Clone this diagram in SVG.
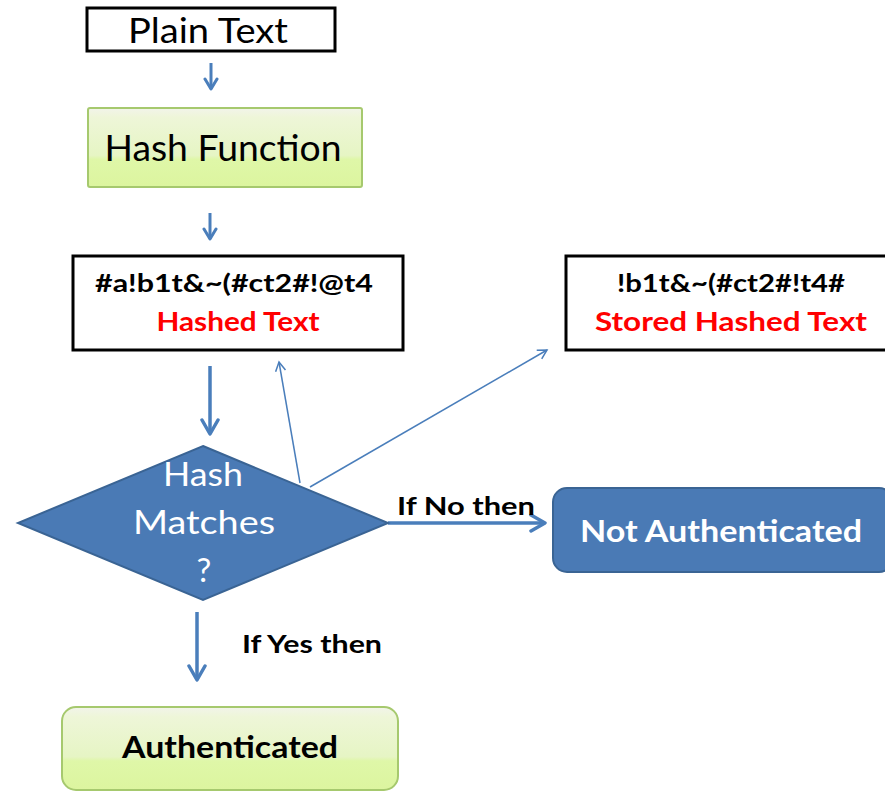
<svg xmlns="http://www.w3.org/2000/svg" width="885" height="792" viewBox="0 0 885 792">
<style>
.t{font-family:Lato,"Liberation Sans",sans-serif;text-anchor:middle}
.b{font-weight:bold}
.box{fill:#fff;stroke:#000;stroke-width:3}
.green{fill:url(#g);stroke:#a6c96e;stroke-width:2}
.blue{fill:#4a7ab5;stroke:#3a6494;stroke-width:2}
.c{stroke:#4a7ebb;fill:none}
</style>
<defs>
<linearGradient id="g" x1="0" y1="0" x2="0" y2="1">
<stop offset="0" stop-color="#f2f4ea"/>
<stop offset="0.12" stop-color="#eef6d8"/>
<stop offset="0.6" stop-color="#e6f5c4"/>
<stop offset="0.65" stop-color="#dff7a8"/>
<stop offset="1" stop-color="#dcf59f"/>
</linearGradient>
<marker id="ah" viewBox="0 0 12 12" refX="10" refY="6" markerWidth="12" markerHeight="12" markerUnits="userSpaceOnUse" orient="auto">
<path d="M1,1 L10,6 L1,11" fill="none" stroke="#4a7ebb" stroke-width="1.5"/>
</marker>
<marker id="ahb" viewBox="0 0 20 20" refX="17" refY="10" markerWidth="20" markerHeight="20" markerUnits="userSpaceOnUse" orient="auto">
<path d="M3,2 L17,10 L3,18" fill="none" stroke="#4a7ebb" stroke-width="3.5" stroke-linecap="round" stroke-linejoin="round"/>
</marker>
<marker id="ahs" viewBox="0 0 16 16" refX="13" refY="8" markerWidth="16" markerHeight="16" markerUnits="userSpaceOnUse" orient="auto">
<path d="M3,2 L13,8 L3,14" fill="none" stroke="#4a7ebb" stroke-width="3" stroke-linecap="round" stroke-linejoin="round"/>
</marker>
</defs>

<g id="connectors">
<line class="c" x1="211" y1="63" x2="211" y2="89" stroke-width="3" marker-end="url(#ahs)"/>
<line class="c" x1="210" y1="213" x2="210" y2="239" stroke-width="3" marker-end="url(#ahs)"/>
<line class="c" x1="210" y1="366" x2="210" y2="434" stroke-width="3.5" marker-end="url(#ahb)"/>
<line class="c" x1="300" y1="483" x2="279" y2="362" stroke-width="1.5" marker-end="url(#ah)"/>
<line class="c" x1="310" y1="487" x2="547" y2="350" stroke-width="1.5" marker-end="url(#ah)"/>
<line class="c" x1="388" y1="523" x2="545" y2="523" stroke-width="3.5" marker-end="url(#ahb)"/>
<line class="c" x1="197" y1="612" x2="197" y2="680" stroke-width="3.5" marker-end="url(#ahb)"/>
<text class="t b" x="466" y="515" font-size="25" textLength="138" lengthAdjust="spacingAndGlyphs">If No then</text>
<text class="t b" x="312" y="653" font-size="25" textLength="140" lengthAdjust="spacingAndGlyphs">If Yes then</text>
</g>

<g id="plain">
<rect class="box" x="87" y="8" width="248" height="43"/>
<text class="t" x="208" y="43" font-size="35" textLength="160" lengthAdjust="spacingAndGlyphs">Plain Text</text>
</g>

<g id="hashfn">
<rect class="green" x="88" y="108" width="274" height="79" rx="2"/>
<text class="t" x="223" y="161" font-size="36" textLength="237" lengthAdjust="spacingAndGlyphs">Hash Function</text>
</g>

<g id="hashed">
<rect class="box" x="73" y="256" width="330" height="94"/>
<text class="t b" x="234" y="292" font-size="24" textLength="278" lengthAdjust="spacingAndGlyphs">#a!b1t&amp;~(#ct2#!@t4</text>
<text class="t b" x="238" y="331" font-size="27" textLength="163" lengthAdjust="spacingAndGlyphs" fill="#ff0000">Hashed Text</text>
</g>

<g id="stored">
<rect class="box" x="566" y="256" width="330" height="94"/>
<text class="t b" x="731" y="292" font-size="24" textLength="228" lengthAdjust="spacingAndGlyphs">!b1t&amp;~(#ct2#!t4#</text>
<text class="t b" x="731" y="331" font-size="27" textLength="272" lengthAdjust="spacingAndGlyphs" fill="#ff0000">Stored Hashed Text</text>
</g>

<g id="decision">
<polygon class="blue" points="203,446 388,523 203,600 18,523"/>
<text class="t" x="203" y="486" font-size="33" textLength="80" lengthAdjust="spacingAndGlyphs" fill="#fff">Hash</text>
<text class="t" x="204" y="534" font-size="33" textLength="142" lengthAdjust="spacingAndGlyphs" fill="#fff">Matches</text>
<text class="t" x="204" y="582" font-size="33" fill="#fff">?</text>
</g>

<g id="notauth">
<rect class="blue" x="553" y="488" width="340" height="84" rx="14"/>
<text class="t b" x="721" y="542" font-size="30" textLength="282" lengthAdjust="spacingAndGlyphs" fill="#fff">Not Authenticated</text>
</g>

<g id="auth">
<rect class="green" x="62" y="707" width="336" height="83" rx="14"/>
<text class="t b" x="230" y="758" font-size="31" textLength="216" lengthAdjust="spacingAndGlyphs">Authenticated</text>
</g>
</svg>
